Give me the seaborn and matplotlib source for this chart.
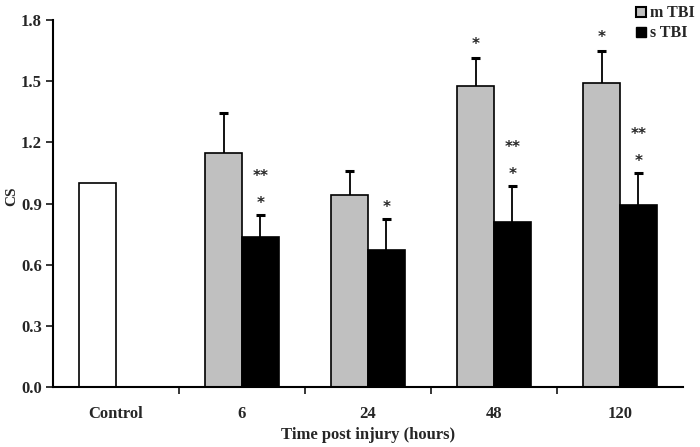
import numpy as np
import pandas as pd
import matplotlib
matplotlib.use('Agg')
import matplotlib.pyplot as plt
import seaborn as sns
from matplotlib.lines import Line2D

# data
categories = ['Control', '6', '24', '48', '120']
mild_vals = [1.0, 1.15, 0.94, 1.476, 1.489]
mild_err = [0.0, 0.195, 0.12, 0.14, 0.16]
severe_cats = ['6', '24', '48', '120']
severe_vals = [0.736, 0.673, 0.811, 0.894]
severe_err = [0.108, 0.152, 0.175, 0.157]
mild_stars = ['', '', '', '*', '*']
severe_stars = [['**', '*'], ['*'], ['**', '*'], ['**', '*']]

sns.set_style('white')
plt.rcParams['font.family'] = ['Liberation Serif', 'DejaVu Serif']
plt.rcParams['font.weight'] = 'bold'

df = pd.concat([
    pd.DataFrame({'Time': categories, 'CS': mild_vals, 'Group': 'm TBI'}),
    pd.DataFrame({'Time': severe_cats, 'CS': severe_vals, 'Group': 's TBI'}),
], ignore_index=True)

fig = plt.figure(figsize=(7, 4.47), dpi=100)
ax = fig.add_axes([53 / 700, 60 / 447, 630 / 700, 367 / 447])

sns.barplot(data=df, x='Time', y='CS', hue='Group', order=categories,
            hue_order=['m TBI', 's TBI'], palette=['#c0c0c0', 'black'],
            width=0.58, edgecolor='black', linewidth=1.2, errorbar=None,
            legend=False, ax=ax, zorder=2)

mild_bars = ax.containers[0]
severe_bars = ax.containers[1]
# control bar is white
mild_bars[0].set_facecolor('white')

def add_err(bar, err):
    if err <= 0:
        return
    x = bar.get_x() + bar.get_width() / 2
    h = bar.get_height()
    ax.vlines(x, h, h + err, color='black', linewidth=1.3, zorder=1)
    ax.hlines(h + err, x - 0.035, x + 0.035, color='black', linewidth=2.2, zorder=1)

def add_stars(x, top, sts, gap):
    for i, st in enumerate(sts[::-1]):
        ax.annotate(st, (x, top), xytext=(0, gap + 19 * i),
                    textcoords='offset points', ha='center', va='bottom',
                    fontsize=11, fontfamily='DejaVu Sans')

for bar, err, st in zip(mild_bars, mild_err, mild_stars):
    add_err(bar, err)
    if st:
        add_stars(bar.get_x() + bar.get_width() / 2, bar.get_height() + err, [st], 4)

valid_severe = [b for b in severe_bars if not np.isnan(b.get_height())]
for bar, err, sts in zip(valid_severe, severe_err, severe_stars):
    add_err(bar, err)
    add_stars(bar.get_x() + bar.get_width() / 2, bar.get_height() + err, sts, 3)

ax.set_xlim(-0.5, 4.5)
ax.set_ylim(0, 1.8)
yt = np.arange(0, 1.81, 0.3)
ax.set_yticks(yt)
ax.set_yticklabels([f'{v:.1f}' for v in yt])
ax.set_xticks([0.5, 1.5, 2.5, 3.5], minor=True)
ax.tick_params(axis='x', which='major', length=0, pad=14, labelsize=12)
ax.tick_params(axis='x', which='minor', length=5, width=1.3, direction='out', bottom=True)
ax.tick_params(axis='y', length=5, width=1.3, direction='out', left=True, labelsize=12, pad=3)
for lab in ax.get_xticklabels() + ax.get_yticklabels():
    lab.set_fontweight('bold')

sns.despine(ax=ax)
for s in ['left', 'bottom']:
    ax.spines[s].set_linewidth(1.5)
    ax.spines[s].set_color('black')

ax.set_xlabel('Time post injury (hours)', fontsize=12, fontweight='bold', labelpad=3)
ax.set_ylabel('CS', fontsize=11, fontweight='bold')
ax.yaxis.set_label_coords(-0.055, 0.52)

handles = [
    Line2D([], [], marker='s', linestyle='none', markersize=7.5,
           markerfacecolor='#c0c0c0', markeredgecolor='black', markeredgewidth=1.5),
    Line2D([], [], marker='s', linestyle='none', markersize=7.5,
           markerfacecolor='black', markeredgecolor='black'),
]
fig.legend(handles, ['m TBI', 's TBI'], loc='upper left', bbox_to_anchor=(628 / 700, 0.995),
           frameon=False, handletextpad=0.0, labelspacing=0.25, handlelength=1.2,
           borderaxespad=0, borderpad=0.2, prop={'weight': 'bold', 'size': 11.5})

fig.savefig('out.png', dpi=100)
